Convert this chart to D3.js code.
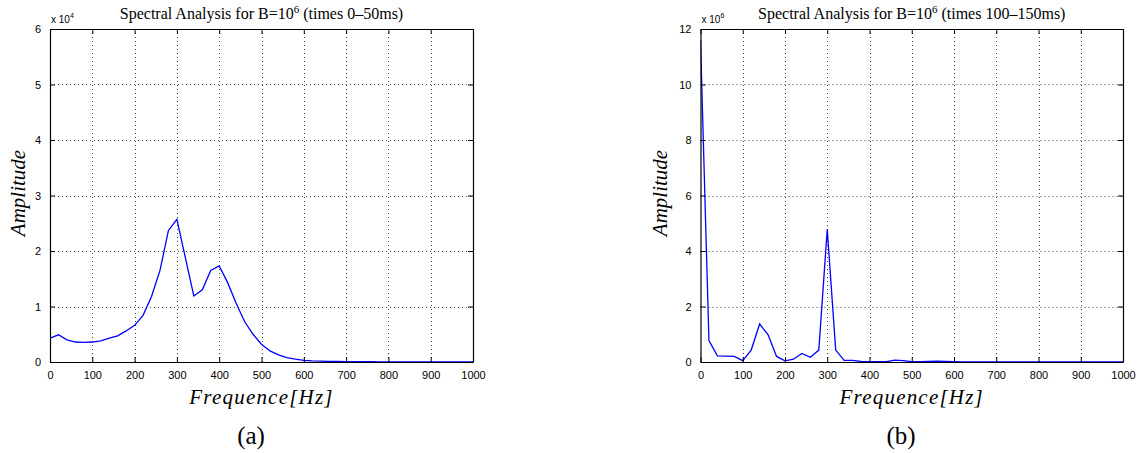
<!DOCTYPE html>
<html>
<head>
<meta charset="utf-8">
<script src="https://cdn.jsdelivr.net/npm/d3@7"></script>
<style>
  html, body { margin: 0; padding: 0; background: #fff; }
  svg { display: block; }
</style>
</head>
<body>
<svg id="chart" width="1142" height="453"></svg>
<script>
// ---------- DATA ----------
const freqs = d3.range(0, 1001, 20); // 0,20,...,1000 Hz
// Panel (a): amplitude in units of 1e4
const ampA = [0.43,0.49,0.40,0.36,0.355,0.36,0.38,0.43,0.47,0.56,
              0.66,0.84,1.18,1.65,2.37,2.57,1.88,1.19,1.30,1.65,
              1.73,1.43,1.06,0.73,0.50,0.32,0.20,0.13,0.08,0.05,
              0.03,0.02,0.015,0.01,0.01,0.008,0.006,0.005,0.005,0.004,
              0.004,0.003,0.003,0.003,0.002,0.002,0.002,0.002,0.002,0.002,0.002];
// Panel (b): amplitude in units of 1e6
const ampB = [11.6,0.77,0.22,0.21,0.20,0.05,0.43,1.37,0.98,0.20,
              0.04,0.10,0.31,0.17,0.43,4.78,0.43,0.06,0.06,0.02,
              0.01,0.01,0.01,0.07,0.05,0.01,0.01,0.02,0.03,0.02,
              0.01,0.005,0.005,0.005,0.005,0.005,0.005,0.005,0.005,0.005,
              0.005,0.005,0.005,0.005,0.005,0.005,0.005,0.005,0.005,0.005,0.005];
const xTicks = d3.range(0, 1001, 100);
const yTicksA = [0,1,2,3,4,5,6];
const yTicksB = [0,2,4,6,8,10,12];
const titles = ["(times 0\u201350ms)", "(times 100\u2013150ms)"];
const exponents = ["4", "6"];
const captions = ["(a)", "(b)"];

// ---------- DRAW ----------
const svg = d3.select("#chart");
const SERIF = "'Liberation Serif', 'Times New Roman', serif";
const SANS = "'Liberation Sans', Arial, sans-serif";

const panels = [
  {x0: 50, x1: 473, yTop: 29, yBot: 362, vals: ampA, yTicks: yTicksA, title: titles[0], exp: exponents[0], cap: captions[0], capX: 251, ylabX: 25},
  {x0: 700.5, x1: 1123, yTop: 29, yBot: 362, vals: ampB, yTicks: yTicksB, title: titles[1], exp: exponents[1], cap: captions[1], capX: 901, ylabX: 667}
];

panels.forEach((p, i) => {
  const x = d3.scaleLinear().domain([0, 1000]).range([p.x0, p.x1]);
  const y = d3.scaleLinear().domain([0, d3.max(p.yTicks)]).range([p.yBot, p.yTop]);
  const g = svg.append("g");

  // grid
  g.selectAll(".gx").data(xTicks.slice(1, -1)).join("line")
    .attr("x1", d => Math.round(x(d)) + 0.5).attr("x2", d => Math.round(x(d)) + 0.5)
    .attr("y1", p.yTop).attr("y2", p.yBot)
    .attr("stroke", "#444").attr("stroke-width", 1).attr("stroke-dasharray", "1,3");
  g.selectAll(".gy").data(p.yTicks.slice(1, -1)).join("line")
    .attr("y1", d => Math.round(y(d)) + 0.5).attr("y2", d => Math.round(y(d)) + 0.5)
    .attr("x1", p.x0).attr("x2", p.x1)
    .attr("stroke", "#444").attr("stroke-width", 1).attr("stroke-dasharray", "1,3");

  // clip
  const clipId = "clip" + i;
  svg.append("clipPath").attr("id", clipId).append("rect")
    .attr("x", p.x0).attr("y", p.yTop).attr("width", p.x1 - p.x0).attr("height", p.yBot - p.yTop);

  // line
  const line = d3.line().x((d, j) => x(freqs[j])).y(d => y(d));
  g.append("path").datum(p.vals)
    .attr("clip-path", `url(#${clipId})`)
    .attr("d", line).attr("fill", "none").attr("stroke", "#0000ff").attr("stroke-width", 1.3);

  // axes (MATLAB style box with inward ticks)
  const fmt = d3.format("d");
  const axB = d3.axisBottom(x).tickValues(xTicks).tickFormat(fmt).tickSizeInner(-5).tickSizeOuter(0).tickPadding(9);
  const axT = d3.axisTop(x).tickValues(xTicks).tickSizeInner(-5).tickSizeOuter(0).tickFormat("");
  const axL = d3.axisLeft(y).tickValues(p.yTicks).tickFormat(fmt).tickSizeInner(-5).tickSizeOuter(0).tickPadding(9);
  const axR = d3.axisRight(y).tickValues(p.yTicks).tickSizeInner(-5).tickSizeOuter(0).tickFormat("");
  const styleAx = sel => {
    sel.selectAll("path").attr("stroke", "#000").attr("stroke-width", 1.2);
    sel.selectAll("line").attr("stroke", "#000");
    sel.selectAll("text").attr("font-family", SANS).attr("font-size", 11).attr("fill", "#000");
  };
  g.append("g").attr("transform", `translate(0,${p.yBot})`).call(axB).call(styleAx);
  g.append("g").attr("transform", `translate(0,${p.yTop})`).call(axT).call(styleAx);
  g.append("g").attr("transform", `translate(${p.x0},0)`).call(axL).call(styleAx);
  g.append("g").attr("transform", `translate(${p.x1},0)`).call(axR).call(styleAx);

  // exponent label
  const ex = g.append("text").attr("x", p.x0 + 1).attr("y", 23)
    .attr("font-family", SANS).attr("font-size", 10).attr("fill", "#000");
  ex.append("tspan").text("x 10");
  ex.append("tspan").attr("font-size", 7).attr("dy", -5).text(p.exp);

  // title
  const t = g.append("text").attr("x", (p.x0 + p.x1) / 2).attr("y", 19)
    .attr("text-anchor", "middle").attr("font-family", SERIF).attr("font-size", 16).attr("fill", "#000");
  t.append("tspan").text("Spectral Analysis for B=10");
  t.append("tspan").attr("font-size", 11).attr("dy", -6).text("6");
  t.append("tspan").attr("dy", 6).text(" " + p.title);

  // y label
  g.append("text").attr("transform", `translate(${p.ylabX},193) rotate(-90)`)
    .attr("text-anchor", "middle").attr("font-family", SERIF).attr("font-style", "italic")
    .attr("font-size", 21).attr("fill", "#000").text("Amplitude");

  // x label
  g.append("text").attr("x", (p.x0 + p.x1) / 2).attr("y", 404)
    .attr("text-anchor", "middle").attr("font-family", SERIF).attr("font-style", "italic")
    .attr("font-size", 21).attr("letter-spacing", 1.2).attr("fill", "#000").text("Frequence[Hz]");

  // caption
  g.append("text").attr("x", p.capX).attr("y", 444)
    .attr("text-anchor", "middle").attr("font-family", SERIF)
    .attr("font-size", 25).attr("fill", "#000").text(p.cap);
});
</script>
</body>
</html>
